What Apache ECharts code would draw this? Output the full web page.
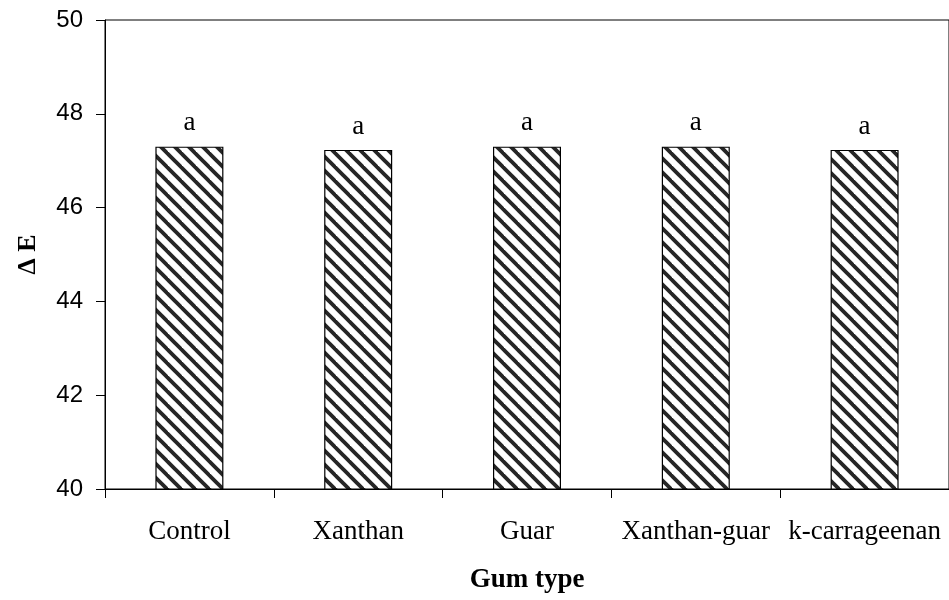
<!DOCTYPE html>
<html>
<head>
<meta charset="utf-8">
<script src="https://cdn.jsdelivr.net/npm/echarts@6/dist/echarts.min.js"></script>
<style>
  html, body { margin: 0; padding: 0; background: #fff; }
  #chart { width: 949px; height: 600px; }
</style>
</head>
<body>
<div id="chart"></div>
<script>
// Colour difference (ΔE) by gum type
const categories = ['Control', 'Xanthan', 'Guar', 'Xanthan-guar', 'k-carrageenan'];
const deltaE = [47.3, 47.23, 47.3, 47.3, 47.23];
const letters = ['a', 'a', 'a', 'a', 'a'];
const yTicks = [40, 42, 44, 46, 48, 50];

// Diagonal hatch tile (lines running top-left to bottom-right)
function hatchTile() {
  const s = 14;
  const c = document.createElement('canvas');
  c.width = s; c.height = s;
  const g = c.getContext('2d');
  g.fillStyle = '#ffffff';
  g.fillRect(0, 0, s, s);
  g.strokeStyle = '#262626';
  g.lineWidth = 3.8;
  g.lineCap = 'square';
  for (const off of [-s, 0, s]) {
    g.beginPath();
    g.moveTo(off, 0);
    g.lineTo(off + s, s);
    g.stroke();
  }
  return c;
}

const serif = '"Liberation Serif", "Times New Roman", serif';
const sans = '"Liberation Sans", Arial, sans-serif';

const chart = echarts.init(document.getElementById('chart'), null, { renderer: 'canvas' });
chart.setOption({
  animation: false,
  backgroundColor: '#ffffff',
  grid: {
    left: 105, top: 20, width: 850, height: 469,
    show: true, borderColor: '#000', borderWidth: 1, backgroundColor: 'transparent'
  },
  xAxis: {
    type: 'category',
    data: categories,
    name: 'Gum type',
    nameLocation: 'middle',
    nameGap: 78,
    nameTextStyle: { fontFamily: serif, fontWeight: 'bold', fontSize: 27, color: '#000' },
    axisLine: { lineStyle: { color: '#000', width: 1 } },
    axisTick: { show: true, length: 9, inside: false, alignWithLabel: false, lineStyle: { color: '#000' } },
    axisLabel: { fontFamily: serif, fontSize: 27, color: '#000', margin: 29, interval: 0 },
    splitLine: { show: false }
  },
  yAxis: {
    type: 'value',
    min: yTicks[0],
    max: yTicks[yTicks.length - 1],
    interval: 2,
    name: 'Δ E',
    nameLocation: 'middle',
    nameGap: 64,
    nameRotate: 90,
    nameTextStyle: { fontFamily: serif, fontWeight: 'bold', fontSize: 26, color: '#000' },
    axisLine: { show: true, lineStyle: { color: '#000', width: 1 } },
    axisTick: { show: true, length: 9, lineStyle: { color: '#000' } },
    axisLabel: { fontFamily: sans, fontSize: 24, color: '#000', margin: 22 },
    splitLine: { show: false }
  },
  series: [{
    type: 'bar',
    data: deltaE,
    barWidth: 68,
    itemStyle: {
      color: { image: hatchTile(), repeat: 'repeat' },
      borderColor: '#000',
      borderWidth: 1.2
    },
    label: {
      show: true,
      position: 'top',
      distance: 10,
      fontFamily: serif,
      fontSize: 27,
      color: '#000',
      formatter: p => letters[p.dataIndex]
    }
  }]
});
</script>
</body>
</html>
